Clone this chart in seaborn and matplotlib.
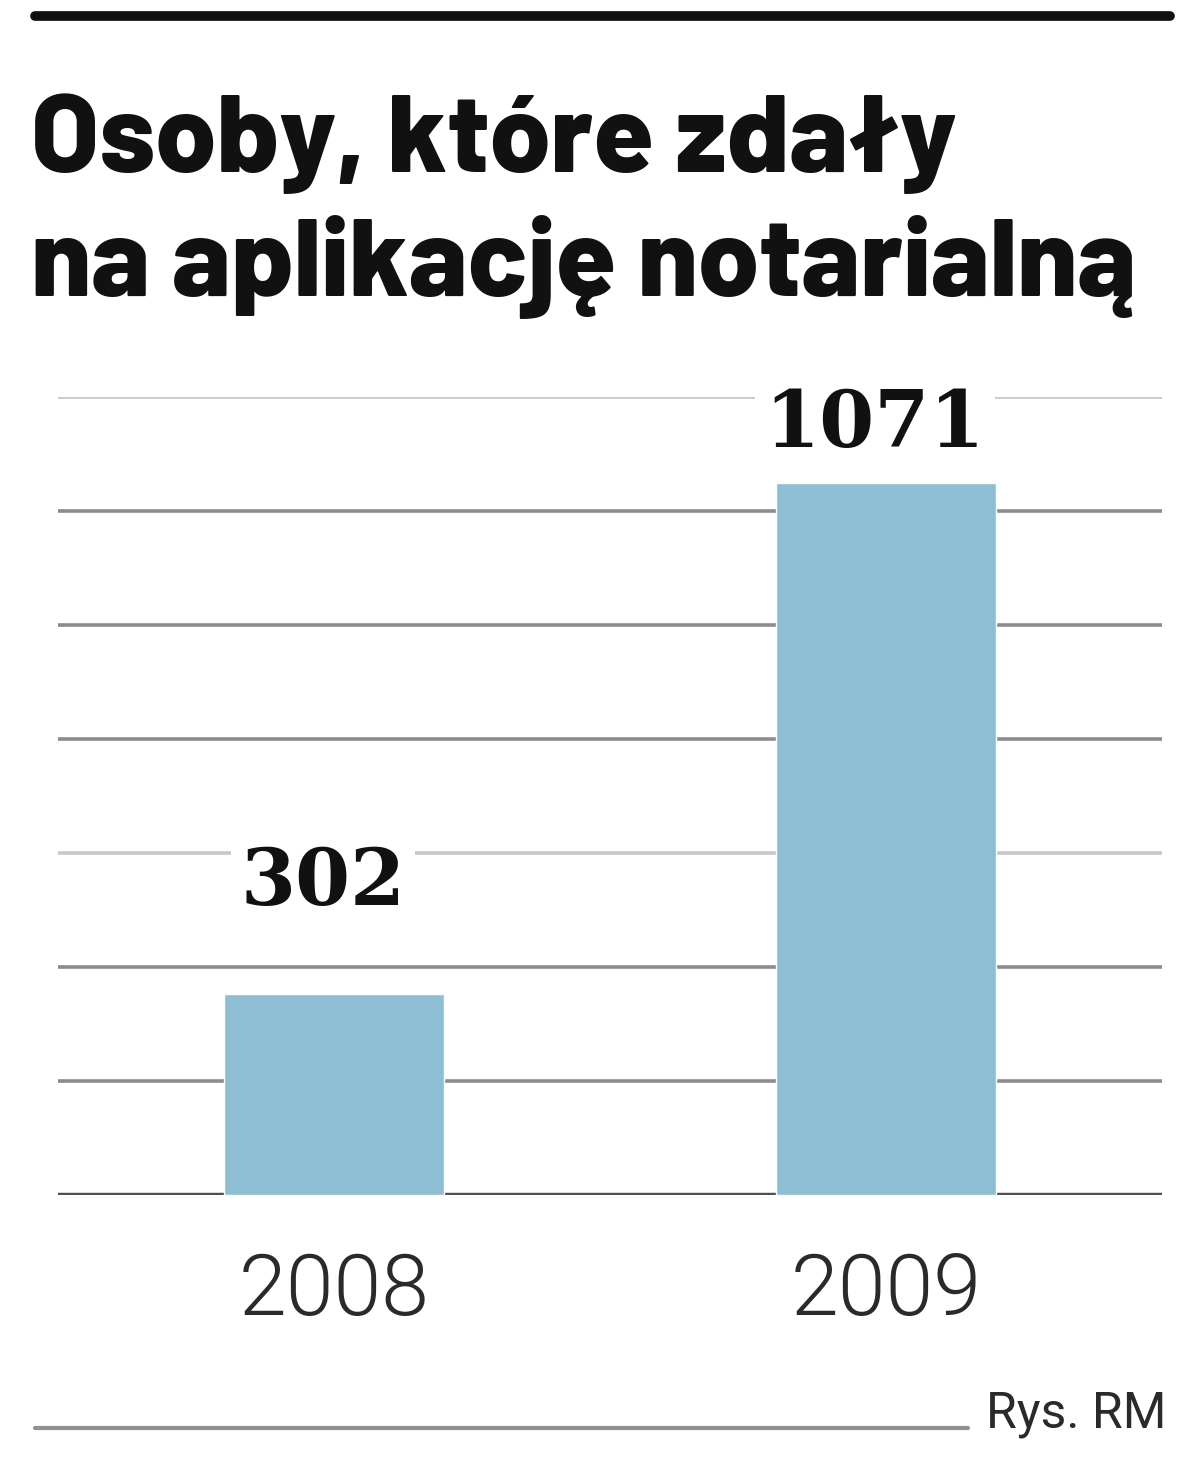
import matplotlib
matplotlib.use("Agg")
import matplotlib.pyplot as plt
import seaborn as sns
import pandas as pd

# chart data
years = ["2008", "2009"]
passed = [302, 1071]
title_lines = ["Osoby, które zdały", "na aplikację notarialną"]
credit = "Rys. RM"

BAR_COLOR = "#8dbed4"
GRID_DARK = "#8c8c8c"
GRID_LIGHT = "#c8c8c8"

sns.set_theme(style="white")
plt.rcParams["font.family"] = ["Barlow", "Barlow Semi Condensed", "DejaVu Sans"]

df = pd.DataFrame({"year": years, "passed": passed})

fig = plt.figure(figsize=(12, 14.69), dpi=100)
ax = fig.add_axes([58 / 1200, (1469 - 1195) / 1469, 1104 / 1200, (1195 - 397) / 1469])

sns.barplot(data=df, x="year", y="passed", color=BAR_COLOR, width=0.4,
            saturation=1, ax=ax, zorder=2)

ax.set_xlim(-0.5, 1.5)
ax.set_ylim(0, 1200)
ticks = [i * 1200 / 7 for i in range(8)]
ax.set_yticks(ticks)
ax.set_yticklabels([])
ax.tick_params(axis="y", length=0)
ax.tick_params(axis="x", length=0, pad=40)
for lbl in ax.get_xticklabels():
    lbl.set_fontfamily(["Roboto", "DejaVu Sans"])
    lbl.set_fontweight(300)
    lbl.set_fontsize(62)
    lbl.set_color("#2a2a2a")
ax.set_xlabel("")
ax.set_ylabel("")
for s in ax.spines.values():
    s.set_visible(False)

ax.yaxis.grid(True, linewidth=2.6, color=GRID_DARK, zorder=0)
ax.set_axisbelow(True)
glines = ax.get_ygridlines()
glines[3].set_color(GRID_LIGHT)
glines[7].set_color(GRID_LIGHT)
glines[0].set_color("#505050")
glines[0].set_linewidth(3.2)
glines[0].set_zorder(3)

# value labels on white patches over the grid
label_pad = [64, 26]
for i, v in enumerate(passed):
    ax.annotate(f"{v}", xy=(i - 0.02, v), xytext=(0, label_pad[i]), textcoords="offset points",
                ha="center", va="baseline", fontsize=57, fontweight="bold",
                family="DejaVu Serif", color="#111111",
                bbox=dict(boxstyle="square,pad=0.12", fc="white", ec="none"),
                zorder=4)

# title and decorations
fig.add_artist(plt.Line2D([35 / 1200, 1170 / 1200], [1 - 16 / 1469, 1 - 16 / 1469],
                          color="#111111", linewidth=7))
for k, line in enumerate(title_lines):
    fig.text(31 / 1200, 1 - (172 + 124 * k) / 1469, line, fontsize=79, fontweight=800,
             color="#111111", ha="left", va="baseline")

fig.add_artist(plt.Line2D([35 / 1200, 968 / 1200], [1 - 1428 / 1469, 1 - 1428 / 1469],
                          color="#909090", linewidth=3))
fig.text(1166 / 1200, 1 - 1427 / 1469, credit, fontsize=36, color="#2a2a2a",
         family=["Roboto", "DejaVu Sans"], ha="right", va="baseline")

fig.savefig("out.png", dpi=100, facecolor="white")
